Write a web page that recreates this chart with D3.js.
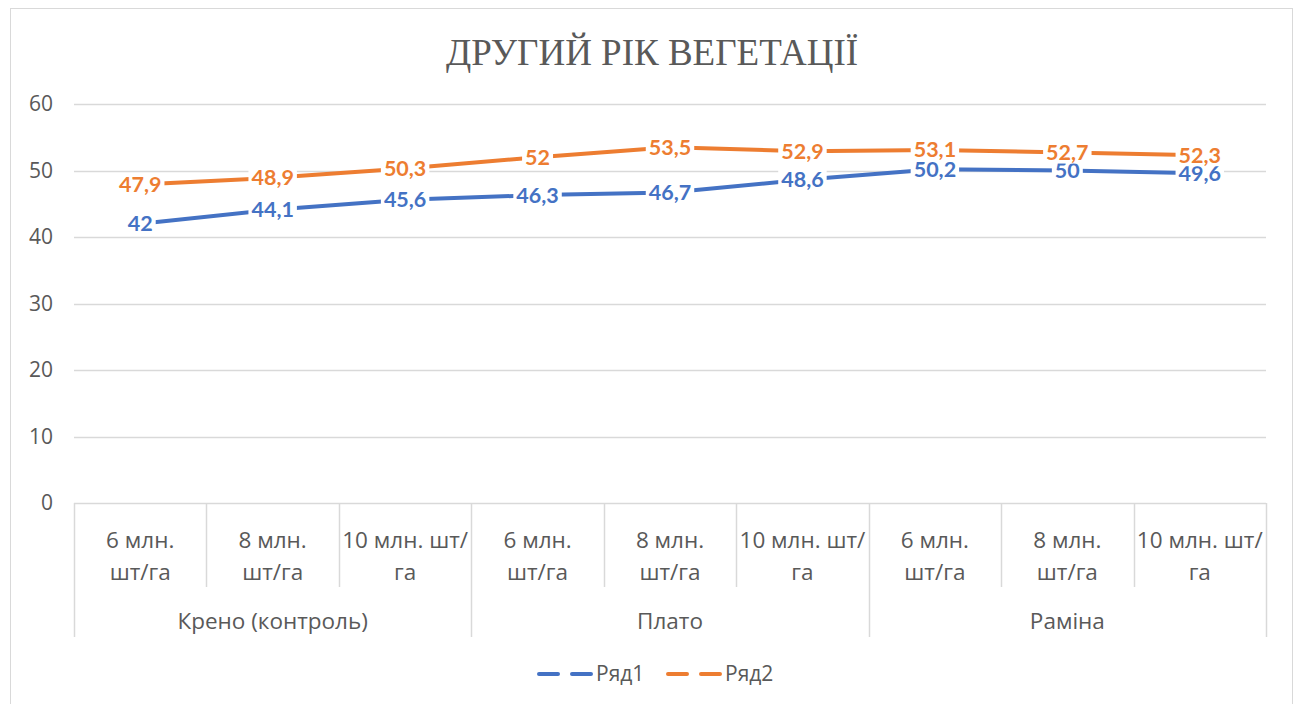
<!DOCTYPE html>
<html>
<head>
<meta charset="utf-8">
<script src="https://cdn.jsdelivr.net/npm/d3@7"></script>
<style>
  body { margin: 0; background: #fff; }
  svg { display: block; }
</style>
</head>
<body>
<svg id="chart"></svg>
<script>
var width = 1297;
var height = 704;

// data
var groups = ['Крено (контроль)', 'Плато', 'Раміна'];
var doses = [['6 млн.', 'шт/га'], ['8 млн.', 'шт/га'], ['10 млн. шт/', 'га']];
var seriesNames = ['Ряд1', 'Ряд2'];
var row1 = [42, 44.1, 45.6, 46.3, 46.7, 48.6, 50.2, 50, 49.6];
var row2 = [47.9, 48.9, 50.3, 52, 53.5, 52.9, 53.1, 52.7, 52.3];
var yTicks = [0, 10, 20, 30, 40, 50, 60];
var colors = ['#4472C4', '#ED7D31'];

var categories = [];
groups.forEach(function(g, gi) {
  doses.forEach(function(d, di) {
    categories.push({ id: gi * 3 + di, group: g, lines: d });
  });
});

var series = [row1, row2].map(function(vals, i) {
  return { name: seriesNames[i], color: colors[i], values: vals };
});

var svg = d3.select('#chart')
  .attr('width', width)
  .attr('height', height);

svg.append('rect')
  .attr('x', 0).attr('y', 0)
  .attr('width', width).attr('height', height)
  .attr('fill', '#fff');

// chart border
svg.append('rect')
  .attr('x', 10.5).attr('y', 8.5)
  .attr('width', 1282).attr('height', 710)
  .attr('fill', 'none')
  .attr('stroke', '#d9d9d9');

var plotLeft = 74, plotRight = 1266, plotTop = 104, plotBottom = 503;

var x = d3.scaleBand()
  .domain(categories.map(function(c) { return c.id; }))
  .range([plotLeft, plotRight])
  .padding(0);

var y = d3.scaleLinear()
  .domain([0, 60])
  .range([plotBottom, plotTop]);

// title
svg.append('text')
  .attr('x', 652)
  .attr('y', 65)
  .attr('text-anchor', 'middle')
  .attr('font-family', '"Liberation Serif", serif')
  .attr('font-size', 37)
  .attr('fill', '#595959')
  .text('ДРУГИЙ РІК ВЕГЕТАЦІЇ');

// gridlines
svg.append('g')
  .selectAll('line')
  .data(yTicks)
  .join('line')
  .attr('x1', plotLeft).attr('x2', plotRight)
  .attr('y1', function(d) { return Math.round(y(d)) + 0.5; })
  .attr('y2', function(d) { return Math.round(y(d)) + 0.5; })
  .attr('stroke', '#d9d9d9')
  .attr('stroke-width', 1.5);

// y axis labels
var yAxis = d3.axisLeft(y).tickValues(yTicks).tickSize(0).tickPadding(0);
var yg = svg.append('g')
  .attr('transform', 'translate(53,0)')
  .call(yAxis);
yg.select('.domain').remove();
yg.selectAll('text')
  .attr('font-family', '"Open Sans", sans-serif')
  .attr('font-size', 21)
  .attr('fill', '#595959');

// category axis separators
var sepX = d3.range(categories.length + 1).map(function(i) {
  return i < categories.length ? x(i) : x(categories.length - 1) + x.bandwidth();
});
svg.append('g')
  .selectAll('line')
  .data(sepX)
  .join('line')
  .attr('x1', function(d) { return Math.round(d) + 0.5; })
  .attr('x2', function(d) { return Math.round(d) + 0.5; })
  .attr('y1', plotBottom)
  .attr('y2', function(d, i) { return i % 3 === 0 ? 637 : 587; })
  .attr('stroke', '#d9d9d9')
  .attr('stroke-width', 1.5);

// category labels
var catG = svg.append('g')
  .attr('font-family', '"Open Sans", sans-serif')
  .attr('font-size', 22.5)
  .attr('fill', '#595959')
  .attr('text-anchor', 'middle');

categories.forEach(function(c) {
  var cx = x(c.id) + x.bandwidth() / 2;
  c.lines.forEach(function(t, li) {
    catG.append('text')
      .attr('x', cx)
      .attr('y', 548 + li * 32)
      .text(t);
  });
});

groups.forEach(function(g, gi) {
  var x0 = x(gi * 3);
  var x1 = x(gi * 3 + 2) + x.bandwidth();
  catG.append('text')
    .attr('x', (x0 + x1) / 2)
    .attr('y', 629)
    .text(g);
});

// lines
var line = d3.line()
  .x(function(d, i) { return x(i) + x.bandwidth() / 2; })
  .y(function(d) { return y(d); });

svg.append('g')
  .selectAll('path')
  .data(series)
  .join('path')
  .attr('d', function(s) { return line(s.values); })
  .attr('fill', 'none')
  .attr('stroke', function(s) { return s.color; })
  .attr('stroke-width', 4)
  .attr('stroke-linejoin', 'round');

// data labels with white boxes
var fmt = function(v) { return String(v).replace('.', ','); };

series.forEach(function(s) {
  var g = svg.append('g');
  s.values.forEach(function(v, i) {
    var cx = x(i) + x.bandwidth() / 2;
    var cy = y(v);
    var label = g.append('g');
    var t = label.append('text')
      .attr('x', cx)
      .attr('y', cy)
      .attr('dy', '0.35em')
      .attr('text-anchor', 'middle')
      .attr('font-family', 'Lato, "Open Sans", sans-serif')
      .attr('font-weight', 'bold')
      .attr('font-size', 21.5)
      .attr('fill', s.color)
      .text(fmt(v));
    var bb = t.node().getBBox();
    label.insert('rect', 'text')
      .attr('x', bb.x - 3)
      .attr('y', cy - 11)
      .attr('width', bb.width + 6)
      .attr('height', 22)
      .attr('fill', '#fff');
  });
});

// legend
var legend = svg.append('g')
  .attr('font-family', '"Open Sans", sans-serif')
  .attr('font-size', 21)
  .attr('fill', '#595959');

var legendX = [539, 668];
series.forEach(function(s, i) {
  var lx = legendX[i];
  legend.append('line')
    .attr('x1', lx).attr('x2', lx + 52)
    .attr('y1', 674).attr('y2', 674)
    .attr('stroke', s.color)
    .attr('stroke-width', 4)
    .attr('stroke-dasharray', '19,14')
    .attr('stroke-linecap', 'round');
  legend.append('text')
    .attr('x', lx + 57)
    .attr('y', 681)
    .text(s.name);
});
</script>
</body>
</html>
